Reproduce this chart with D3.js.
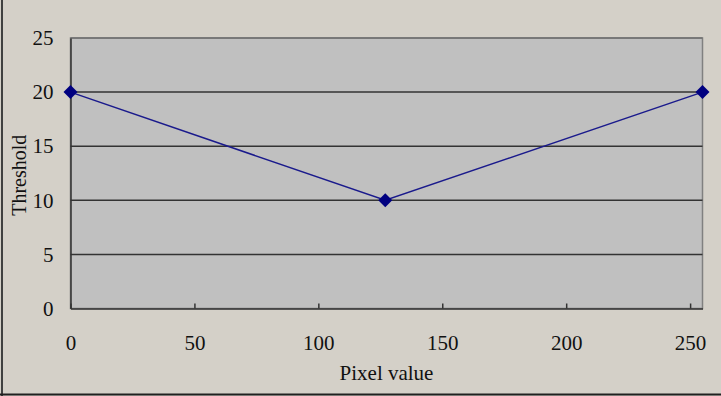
<!DOCTYPE html>
<html>
<head>
<meta charset="utf-8">
<script src="https://cdn.jsdelivr.net/npm/d3@7"></script>
<style>
  body { margin: 0; background: #d4d0c8; }
  svg { display: block; }
</style>
</head>
<body>
<div class="canvas"></div>
<script>
// data
const pixelValues = [0, 127, 255];
const thresholds = [20, 10, 20];
const xTicks = [0, 50, 100, 150, 200, 250];
const yTicks = [0, 5, 10, 15, 20, 25];

const width = 721;
const height = 396;
const margins = { top: 38, right: 18.5, bottom: 87.5, left: 70.5 };
const graphWidth = width - margins.left - margins.right;
const graphHeight = height - margins.top - margins.bottom;
const font = "'Liberation Serif', 'Times New Roman', serif";

const svg = d3
  .select(".canvas")
  .append("svg")
  .attr("width", width)
  .attr("height", height);

// background + frame
svg.append("rect").attr("width", width).attr("height", height).attr("fill", "#d4d0c8");
svg.append("line").attr("x1", 2).attr("x2", 2).attr("y1", 0).attr("y2", height)
  .attr("stroke", "#404040").attr("stroke-width", 2);
svg.append("line").attr("x1", 0).attr("x2", width).attr("y1", 394.5).attr("y2", 394.5)
  .attr("stroke", "#202020").attr("stroke-width", 2);

const graph = svg
  .append("g")
  .attr("transform", `translate(${margins.left}, ${margins.top})`);

// scales
const x = d3.scaleLinear().domain([0, 255]).range([0, graphWidth]);
const y = d3.scaleLinear().domain([0, 25]).range([graphHeight, 0]);

// plot area
graph.append("rect")
  .attr("width", graphWidth)
  .attr("height", graphHeight)
  .attr("fill", "#c0c0c0")
  .attr("stroke", "#808080")
  .attr("stroke-width", 1.5);

// gridlines
graph.append("g")
  .selectAll("line")
  .data(yTicks.filter((d) => d > 0))
  .enter()
  .append("line")
  .attr("x1", 0)
  .attr("x2", graphWidth)
  .attr("y1", (d) => y(d))
  .attr("y2", (d) => y(d))
  .attr("stroke", (d) => (d === 25 ? "#707070" : "#333"))
  .attr("stroke-width", 1.5);

// axes
const xAxis = d3.axisBottom(x).tickValues(xTicks).tickSizeInner(-5).tickSizeOuter(0).tickPadding(27);
const yAxis = d3.axisLeft(y).tickValues(yTicks).tickSizeInner(0).tickSizeOuter(0).tickPadding(17);

const xAxisGroup = graph.append("g")
  .attr("transform", `translate(0, ${graphHeight})`)
  .call(xAxis);
const yAxisGroup = graph.append("g").call(yAxis);

[xAxisGroup, yAxisGroup].forEach((g) => {
  g.selectAll("path, line").attr("stroke", "#333").attr("stroke-width", 1.5);
  g.selectAll("text")
    .attr("font-family", font)
    .attr("font-size", 21)
    .attr("fill", "#111");
});

// axis titles
svg.append("text")
  .attr("x", margins.left + x(127.5))
  .attr("y", 380)
  .attr("text-anchor", "middle")
  .attr("font-family", font)
  .attr("font-size", 21)
  .attr("fill", "#111")
  .text("Pixel value");

svg.append("text")
  .attr("transform", `translate(26, ${margins.top + graphHeight / 2 + 2}) rotate(-90)`)
  .attr("text-anchor", "middle")
  .attr("font-family", font)
  .attr("font-size", 20)
  .attr("fill", "#111")
  .text("Threshold");

// line
const points = pixelValues.map((v, i) => ({ px: v, th: thresholds[i] }));
const line = d3.line().x((d) => x(d.px)).y((d) => y(d.th));

graph.append("path")
  .datum(points)
  .attr("fill", "none")
  .attr("stroke", "#1a1a8c")
  .attr("stroke-width", 1.5)
  .attr("d", line);

// markers
graph.selectAll("path.marker")
  .data(points)
  .enter()
  .append("path")
  .attr("class", "marker")
  .attr("d", d3.symbol().type(d3.symbolDiamond2).size(125))
  .attr("transform", (d) => `translate(${x(d.px)}, ${y(d.th)})`)
  .attr("fill", "#000080");
</script>
</body>
</html>
